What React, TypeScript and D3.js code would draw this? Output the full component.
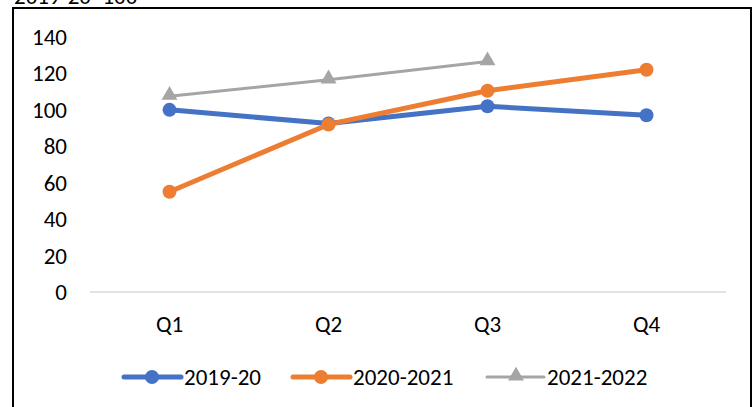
import React, { useRef, useEffect } from 'react';
import * as d3 from 'd3';

const quarters = ['Q1', 'Q2', 'Q3', 'Q4'];
const seriesNames = ['2019-20', '2020-2021', '2021-2022'];
const values2019 = [100, 92.5, 102, 97];
const values2020 = [55, 92, 110.5, 122];
const values2021 = [107.5, 116.5, 126.5];
const yTicks = [0, 20, 40, 60, 80, 100, 120, 140];

function App() {
  const svgRef = useRef<SVGSVGElement>(null);

  useEffect(() => {
    const W = 755, H = 407;
    const font = 'Carlito, Lato, "Liberation Sans", sans-serif';
    const fs = 23;
    const svg = d3.select(svgRef.current);
    svg.selectAll('*').remove();
    svg.attr('width', W).attr('height', H).style('font-family', font);

    // caption above the frame, cut by the top edge as in the original
    svg.append('text')
      .attr('x', 14).attr('y', 4)
      .attr('font-size', 23)
      .attr('fill', '#000')
      .text('2019-20=100');

    // outer frame
    svg.append('rect')
      .attr('x', 13).attr('y', 8)
      .attr('width', 738).attr('height', 420)
      .attr('fill', 'white')
      .attr('stroke', '#000')
      .attr('stroke-width', 2);

    const x = d3.scaleBand().domain(quarters).range([90, 726]);
    const y = d3.scaleLinear().domain([0, 140]).range([292, 37]);
    const cx = (q: string) => (x(q) as number) + x.bandwidth() / 2;

    // baseline
    svg.append('line')
      .attr('x1', 90).attr('x2', 726)
      .attr('y1', y(0)).attr('y2', y(0))
      .attr('stroke', '#d9d9d9').attr('stroke-width', 1.5);

    // y labels
    svg.append('g').selectAll('text')
      .data(yTicks).enter().append('text')
      .attr('x', 67).attr('y', d => y(d))
      .attr('dy', '0.35em')
      .attr('text-anchor', 'end')
      .attr('font-size', fs)
      .attr('fill', '#000')
      .text(d => d);

    // x labels
    svg.append('g').selectAll('text')
      .data(quarters).enter().append('text')
      .attr('x', d => cx(d)).attr('y', 324)
      .attr('dy', '0.35em')
      .attr('text-anchor', 'middle')
      .attr('font-size', fs)
      .attr('fill', '#000')
      .text(d => d);

    const series = [
      { name: seriesNames[0], values: values2019, color: '#4472C4', width: 5, marker: 'circle' },
      { name: seriesNames[1], values: values2020, color: '#ED7D31', width: 5, marker: 'circle' },
      { name: seriesNames[2], values: values2021, color: '#A5A5A5', width: 3, marker: 'triangle' },
    ];

    const line = d3.line<number>()
      .x((_, i) => cx(quarters[i]))
      .y(d => y(d));

    const tri = d3.symbol().type(d3.symbolTriangle).size(110);

    series.forEach(s => {
      svg.append('path')
        .datum(s.values)
        .attr('fill', 'none')
        .attr('stroke', s.color)
        .attr('stroke-width', s.width)
        .attr('stroke-linejoin', 'round')
        .attr('stroke-linecap', 'round')
        .attr('d', line);

      if (s.marker === 'circle') {
        svg.append('g').selectAll('circle')
          .data(s.values).enter().append('circle')
          .attr('cx', (_, i) => cx(quarters[i]))
          .attr('cy', d => y(d))
          .attr('r', 7)
          .attr('fill', s.color);
      } else {
        svg.append('g').selectAll('path')
          .data(s.values).enter().append('path')
          .attr('transform', (d, i) => `translate(${cx(quarters[i])},${y(d) - 1})`)
          .attr('d', tri)
          .attr('fill', s.color);
      }
    });

    // legend
    const legendX = [124, 293, 487];
    const ly = 377;
    series.forEach((s, i) => {
      const g = svg.append('g').attr('transform', `translate(${legendX[i]},${ly})`);
      g.append('line')
        .attr('x1', 0).attr('x2', 57)
        .attr('y1', 0).attr('y2', 0)
        .attr('stroke', s.color)
        .attr('stroke-width', s.width)
        .attr('stroke-linecap', 'round');
      if (s.marker === 'circle') {
        g.append('circle').attr('cx', 28).attr('cy', 0).attr('r', 7).attr('fill', s.color);
      } else {
        g.append('path').attr('transform', 'translate(29,-1)').attr('d', tri).attr('fill', s.color);
      }
      g.append('text')
        .attr('x', 60).attr('y', 0)
        .attr('dy', '0.35em')
        .attr('font-size', fs)
        .attr('fill', '#000')
        .text(s.name);
    });
  }, []);

  return (
    <svg ref={svgRef} style={{ position: 'absolute', left: 0, top: 0, display: 'block' }}></svg>
  );
}

export default App;
